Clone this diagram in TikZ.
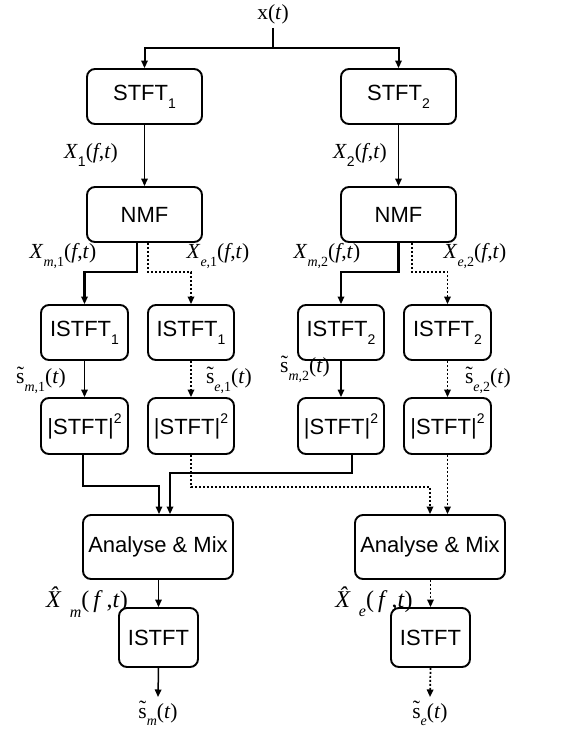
\documentclass[tikz,border=0pt]{standalone}
\usepackage{fontspec}
\setmainfont{Liberation Sans}
\newfontfamily\tms{Liberation Serif}
\newfontfamily\arl{Liberation Sans}
\usetikzlibrary{arrows.meta,calc}
\newcommand\sbs[1]{\raisebox{-0.35em}{\fontsize{14}{14}\selectfont #1}}
\newcommand\hsb[1]{\raisebox{-0.4em}{\fontsize{16}{16}\selectfont #1}}
\newcommand\sps[1]{\raisebox{0.5em}{\fontsize{14}{14}\selectfont #1}}
\newcommand\tl{\ooalign{s\cr\hidewidth\raisebox{0.12em}{\char"02DC}\hidewidth\cr}}
\begin{document}
\begin{tikzpicture}[x=1pt,y=1pt,
  box/.style={draw,rounded corners=8pt,line width=1.9pt,inner sep=0pt,align=center,font=\fontsize{22}{22}\selectfont},
  lbl/.style={inner sep=0pt,font=\fontsize{21.5}{22}\selectfont\tms},
  arr/.style={line width=1.5pt,-{Triangle[length=7.5pt,width=6.5pt]}},
  thk/.style={arr,line width=2.2pt},
  dot/.style={arr,dash pattern=on 2pt off 2pt,line width=1.7pt}]
\useasboundingbox (0,0) rectangle (577,-736);
% input
\node[lbl] (xt) at (273,-14) {x(\textit{t})};
% STFT
\node[box,minimum width=115pt,minimum height=55pt] (s1) at (144.5,-96.5) {STFT\sbs{1}};
\node[box,minimum width=115pt,minimum height=55pt] (s2) at (398.5,-96.5) {STFT\sbs{2}};
% NMF
\node[box,minimum width=115pt,minimum height=55pt] (n1) at (144.5,-214.5) {NMF};
\node[box,minimum width=115pt,minimum height=55pt] (n2) at (398.5,-214.5) {NMF};
% ISTFT
\node[box,minimum width=87pt,minimum height=55pt] (i1) at (84.5,-332.5) {ISTFT\sbs{1}};
\node[box,minimum width=86pt,minimum height=55pt] (i2) at (191,-332.5) {ISTFT\sbs{1}};
\node[box,minimum width=86pt,minimum height=55pt] (i3) at (341,-332.5) {ISTFT\sbs{2}};
\node[box,minimum width=87pt,minimum height=55pt] (i4) at (447.5,-332.5) {ISTFT\sbs{2}};
% |STFT|^2
\node[box,minimum width=87pt,minimum height=56pt] (p1) at (84.5,-426) {|STFT|\sps{2}};
\node[box,minimum width=86pt,minimum height=56pt] (p2) at (191,-426) {|STFT|\sps{2}};
\node[box,minimum width=86pt,minimum height=56pt] (p3) at (341,-426) {|STFT|\sps{2}};
\node[box,minimum width=87pt,minimum height=56pt] (p4) at (447.5,-426) {|STFT|\sps{2}};
% Analyse & Mix
\node[box,minimum width=150pt,minimum height=64pt] (a1) at (158,-547) {Analyse \& Mix};
\node[box,minimum width=150pt,minimum height=64pt] (a2) at (430,-547) {Analyse \& Mix};
% final ISTFT
\node[box,minimum width=79pt,minimum height=59pt] (im) at (158.5,-637.5) {ISTFT};
\node[box,minimum width=79pt,minimum height=59pt] (ie) at (430.5,-637.5) {ISTFT};
% outputs
\node[lbl,anchor=north] (sm) at (158,-703) {\tl\sbs{\textit{m}}(\textit{t})};
\node[lbl,anchor=north] (se) at (430,-703) {\tl\sbs{\textit{e}}(\textit{t})};
% labels
\node[lbl] (lx1) at (91,-155) {\textit{X}\sbs{\arl 1}(\textit{f},\textit{t})};
\node[lbl] (lx2) at (360,-155) {\textit{X}\sbs{\arl 2}(\textit{f},\textit{t})};
\node[lbl] (lm1) at (63,-256) {\textit{X}\sbs{\textit{m},1}(\textit{f},\textit{t})};
\node[lbl] (le1) at (218,-256) {\textit{X}\sbs{\textit{e},1}(\textit{f},\textit{t})};
\node[lbl] (lm2) at (327,-256) {\textit{X}\sbs{\textit{m},2}(\textit{f},\textit{t})};
\node[lbl] (le2) at (475,-256) {\textit{X}\sbs{\textit{e},2}(\textit{f},\textit{t})};
\node[lbl] (ls1) at (41,-381) {\tl\sbs{\textit{m},1}(\textit{t})};
\node[lbl] (lse1) at (229,-381) {\tl\sbs{\textit{e},1}(\textit{t})};
\node[lbl] (ls2) at (305,-370) {\tl\sbs{\textit{m},2}(\textit{t})};
\node[lbl] (lse2) at (488,-381) {\tl\sbs{\textit{e},2}(\textit{t})};
\node[lbl,font=\fontsize{24}{24}\selectfont\tms] (lhm) at (87,-602) {\textit{\^{X}}\hsb{\textit{m}}(\,\textit{f}\,,\textit{t})};
\node[lbl,font=\fontsize{24}{24}\selectfont\tms] (lhe) at (374,-602) {\textit{\^{X}}\hsb{\textit{e}}(\,\textit{f}\,,\textit{t})};
% connectors
\coordinate (sp) at (273,-48);
\draw[line width=2pt] ([yshift=-4pt]xt.south) -- (sp);
\draw[arr,line width=2pt] (sp) -| (s1.north);
\draw[arr,line width=2pt] (sp) -| (s2.north);
\draw[arr] (s1) -- (n1);
\draw[arr] (s2) -- (n2);
\draw[thk] ([xshift=-7.5pt]n1.south) -- ++(0,-29) -| (i1.north);
\draw[dot] ([xshift=3.5pt]n1.south) -- ++(0,-29) -| (i2.north);
\draw[thk] (n2.south) -- ++(0,-29) -| (i3.north);
\draw[dot] ([xshift=13.5pt]n2.south) -- ++(0,-29) -| (i4.north);
\draw[arr] (i1) -- (p1);
\draw[dot] (i2) -- (p2);
\draw[arr] (i3) -- (p3);
\draw[dot] (i4) -- (p4);
\draw[arr] ([xshift=-1.5pt]p1.south) -- ++(0,-31) -| ([xshift=1pt]a1.north);
\draw[arr,line width=1.8pt] ([xshift=11pt]p3.south) -- ++(0,-18) -| ([xshift=12pt]a1.north);
\draw[dot] (p2.south) -- ++(0,-32) -| (a2.north);
\draw[dot] (p4.south) -- (p4.south |- a2.north);
\draw[arr] (a1.south -| im.north) -- (im.north);
\draw[dot] (a2.south -| ie.north) -- (ie.north);
\draw[arr] (im.south) -- ([yshift=6pt]sm.north);
\draw[dot] (ie.south) -- ([yshift=6pt]se.north);
\end{tikzpicture}
\end{document}
